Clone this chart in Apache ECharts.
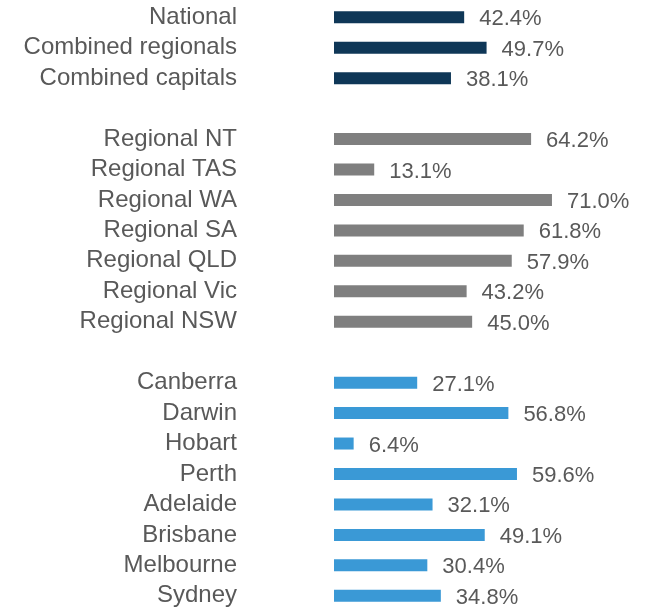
<!DOCTYPE html>
<html>
<head>
<meta charset="utf-8">
<style>
  html, body { margin: 0; padding: 0; background: #fff; }
  #chart { width: 650px; height: 611px; }
</style>
</head>
<body>
<div id="chart"></div>
<script src="https://cdn.jsdelivr.net/npm/echarts@6/dist/echarts.min.js"></script>
<script type="text/javascript">
	// rows from top to bottom, blanks are the gaps between groups
	var categories = ['National', 'Combined regionals', 'Combined capitals', '',
		'Regional NT', 'Regional TAS', 'Regional WA', 'Regional SA', 'Regional QLD', 'Regional Vic', 'Regional NSW', ' ',
		'Canberra', 'Darwin', 'Hobart', 'Perth', 'Adelaide', 'Brisbane', 'Melbourne', 'Sydney'];
	var values = [42.4, 49.7, 38.1, null,
		64.2, 13.1, 71.0, 61.8, 57.9, 43.2, 45.0, null,
		27.1, 56.8, 6.4, 59.6, 32.1, 49.1, 30.4, 34.8];
	var groups = ['total', 'total', 'total', '',
		'regional', 'regional', 'regional', 'regional', 'regional', 'regional', 'regional', '',
		'capital', 'capital', 'capital', 'capital', 'capital', 'capital', 'capital', 'capital'];

	var groupColors = { total: '#0f3757', regional: '#7f7f7f', capital: '#3a99d6' };
	var textColor = '#595959';
	var fontName = '"Liberation Sans", Arial, sans-serif';

	var chart = echarts.init(document.getElementById('chart'));

	var seriesData = [];
	for (var i = 0; i < values.length; i++) {
		if (values[i] === null) {
			seriesData.push('-');
		} else {
			seriesData.push({ value: values[i], itemStyle: { color: groupColors[groups[i]] } });
		}
	}

	var option = {
		animation: false,
		grid: { left: 334, right: 9, top: 2, height: 612, containLabel: false },
		xAxis: {
			type: 'value',
			min: 0,
			max: 100,
			show: false
		},
		yAxis: {
			type: 'category',
			inverse: true,
			data: categories,
			axisLine: { show: false },
			axisTick: { show: false },
			splitLine: { show: false },
			axisLabel: {
				interval: 0,
				hideOverlap: false,
				margin: 97,
				color: textColor,
				fontFamily: fontName,
				fontSize: 24
			}
		},
		series: [{
			type: 'bar',
			data: seriesData,
			barWidth: 12,
			label: {
				show: true,
				position: 'right',
				distance: 15,
				offset: [0, 2],
				color: textColor,
				fontFamily: fontName,
				fontSize: 22,
				formatter: function (p) { return p.value.toFixed(1) + '%'; }
			}
		}]
	};

	chart.setOption(option);
</script>
</body>
</html>
